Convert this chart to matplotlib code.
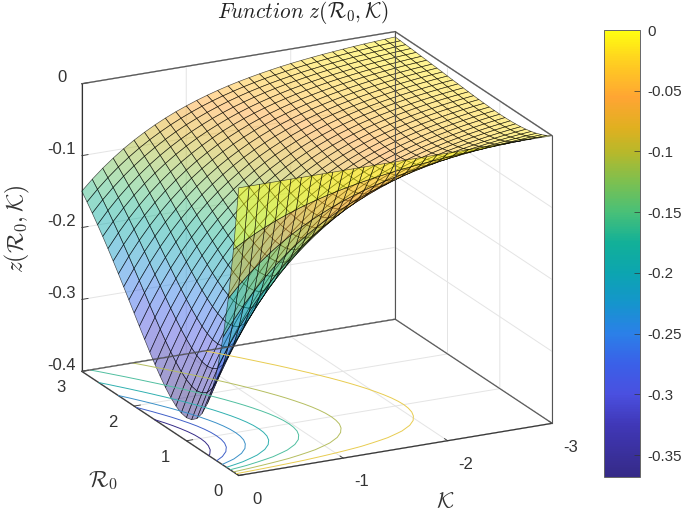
import numpy as np
import matplotlib
matplotlib.use("Agg")
import matplotlib.pyplot as plt
from matplotlib.colors import LinearSegmentedColormap, Normalize
from matplotlib.cm import ScalarMappable
from matplotlib.transforms import ScaledTranslation

plt.rcParams['font.family'] = ['Liberation Sans', 'DejaVu Sans']
plt.rcParams['mathtext.fontset'] = 'cm'

k_values = [-0.1 * i for i in range(31)]
r0_values = [0.1 * i for i in range(31)]
k_ticks = [-3, -2, -1, 0]
k_ticklabels = ['-3', '-2', '-1', '0']
r0_ticks = [0, 1, 2, 3]
z_ticks = [-0.4, -0.3, -0.2, -0.1, 0]
z_ticklabels = ['-0.4', '-0.3', '-0.2', '-0.1', '0']
cbar_ticks = [-0.35, -0.3, -0.25, -0.2, -0.15, -0.1, -0.05, 0]
cbar_ticklabels = ['-0.35', '-0.3', '-0.25', '-0.2', '-0.15', '-0.1', '-0.05', '0']
contour_levels = [-0.322, -0.276, -0.230, -0.184, -0.138, -0.092, -0.046]
contour_colors = ['#352A87', '#4060C8', '#3A90C8', '#30B0B0', '#50BFA0', '#B5BE60', '#E8CC50']
z_min = -0.368

# depth of the surface below zero, in units of 0.0001; one row per R0, one column per K
depth = [
[0]*31,
[905,819,741,670,607,549,497,449,407,368,333,301,273,247,223,202,183,165,150,135,122,111,100,91,82,74,67,61,55,50,45],
[1637,1481,1340,1213,1097,993,898,813,736,666,602,545,493,446,404,365,331,299,271,245,221,201,181,164,148,134,122,110,100,90,82],
[2222,2011,1819,1646,1489,1348,1219,1103,998,903,817,740,669,606,548,496,449,406,367,332,301,272,246,223,202,182,165,149,135,122,111],
[2681,2426,2195,1986,1797,1626,1471,1331,1205,1090,986,893,807,731,661,598,541,490,443,401,363,328,297,269,243,220,199,180,163,147,134],
[3033,2744,2483,2247,2033,1840,1665,1506,1363,1233,1116,1010,914,826,748,677,612,554,501,454,410,372,336,304,275,249,225,204,184,167,151],
[3293,2980,2696,2439,2207,1997,1807,1635,1480,1339,1211,1096,992,897,812,735,665,602,544,493,446,403,365,330,299,270,245,221,200,181,164],
[3476,3145,2846,2575,2330,2108,1908,1726,1562,1413,1279,1157,1047,947,857,776,702,635,575,520,470,426,385,349,315,285,258,234,211,191,173],
[3595,3253,2943,2663,2410,2180,1973,1785,1615,1462,1323,1197,1083,980,887,802,726,657,594,538,486,440,398,361,326,295,267,242,219,198,179],
[3659,3311,2996,2711,2453,2219,2008,1817,1644,1488,1346,1218,1102,997,902,816,739,668,605,547,495,448,405,367,332,300,272,246,222,201,182],
[3679,3329,3012,2725,2466,2231,2019,1827,1653,1496,1353,1225,1108,1003,907,821,743,672,608,550,498,451,408,369,334,302,273,247,224,202,183],
[3662,3313,2998,2713,2455,2221,2010,1819,1645,1489,1347,1219,1103,998,903,817,739,669,605,548,495,449,406,367,332,301,272,246,223,201,182],
[3614,3270,2959,2677,2422,2192,1983,1795,1624,1469,1330,1203,1089,985,891,806,730,660,597,541,489,443,400,362,328,297,269,243,220,199,180],
[3543,3206,2901,2625,2375,2149,1944,1759,1592,1441,1303,1179,1067,965,874,790,715,647,586,530,479,434,393,355,321,291,263,238,215,195,176],
[3452,3123,2826,2557,2314,2094,1894,1714,1551,1404,1270,1149,1040,941,851,770,697,631,571,516,467,423,382,346,313,283,256,232,210,190,172],
[3347,3028,2740,2479,2243,2030,1837,1662,1504,1361,1231,1114,1008,912,825,747,676,611,553,501,453,410,371,336,304,275,249,225,203,184,167],
[3230,2923,2644,2393,2165,1959,1773,1604,1451,1313,1188,1075,973,880,797,721,652,590,534,483,437,396,358,324,293,265,240,217,196,178,161],
[3106,2810,2543,2301,2082,1884,1705,1542,1396,1263,1143,1034,936,846,766,693,627,567,513,465,420,380,344,312,282,255,231,209,189,171,155],
[2975,2692,2436,2204,1994,1804,1633,1477,1337,1210,1094,990,896,811,734,664,601,544,492,445,403,364,330,298,270,244,221,200,181,164,148],
[2842,2571,2327,2105,1905,1724,1560,1411,1277,1156,1046,946,856,774,701,634,574,519,470,425,385,348,315,285,258,233,211,191,173,156,142],
[2707,2449,2216,2005,1815,1642,1486,1344,1216,1101,996,901,815,738,668,604,547,495,447,405,366,332,300,272,246,222,201,182,165,149,135],
[2572,2327,2106,1905,1724,1560,1412,1277,1156,1046,946,856,775,701,634,574,519,470,425,385,348,315,285,258,233,211,191,173,156,141,128],
[2438,2206,1996,1806,1634,1479,1338,1211,1095,991,897,812,734,664,601,544,492,445,403,365,330,299,270,245,221,200,181,164,148,134,121],
[2306,2086,1888,1708,1546,1399,1266,1145,1036,938,848,768,695,628,569,514,466,421,381,345,312,283,256,231,209,189,171,155,140,127,115],
[2177,1970,1782,1613,1459,1320,1195,1081,978,885,801,725,656,593,537,486,440,398,360,326,295,267,241,218,197,179,162,146,132,120,108],
[2052,1857,1680,1520,1375,1245,1126,1019,922,834,755,683,618,559,506,458,414,375,339,307,278,251,227,206,186,168,152,138,125,113,102],
[1931,1747,1581,1430,1294,1171,1060,959,868,785,710,643,582,526,476,431,390,353,319,289,261,237,214,194,175,159,143,130,117,106,96],
[1815,1642,1486,1345,1217,1101,996,901,815,738,668,604,547,495,448,405,366,332,300,272,246,222,201,182,165,149,135,122,110,100,90],
[1703,1541,1394,1262,1142,1033,935,846,765,692,627,567,513,464,420,380,344,311,282,255,230,209,189,171,154,140,127,114,104,94,85],
[1596,1444,1307,1182,1070,968,876,793,717,649,587,531,481,435,394,356,322,292,264,239,216,196,177,160,145,131,119,107,97,88,79],
[1494,1352,1223,1107,1001,906,820,742,671,607,550,497,450,407,368,333,302,273,247,223,202,183,166,150,136,123,111,100,91,82,74],
]

cmap_z = [-0.368, -0.325, -0.3, -0.275, -0.25, -0.225, -0.2, -0.175, -0.15, -0.125, -0.1, -0.08, -0.055, -0.025, 0]
cmap_colors = ['#352A87', '#4038B8', '#4A50E0', '#3A60E8', '#2B80E8', '#1595CC', '#0CA5B0', '#12B098',
               '#48C078', '#7CC050', '#B8B82A', '#E0B020', '#FFA533', '#FFD020', '#FFFF10']
norm = Normalize(z_min, 0)
parula = LinearSegmentedColormap.from_list('image_map', list(zip([float(norm(v)) for v in cmap_z], cmap_colors)))

K, R = np.meshgrid(k_values, r0_values)
Z = -np.array(depth) * 1e-4

fig = plt.figure(figsize=(6.83, 5.15), dpi=100)
W, H = 683, 515
ax = fig.add_axes([10 / W, -3 / H, 600 / W, 1], projection='3d', computed_zorder=False)
ax.set_proj_type('ortho')
ax.view_init(elev=19.4, azim=-116.6)
ax.set_box_aspect((1, 1, 0.87), zoom=1.097)
ax.patch.set_alpha(0)
ax.set_xlim3d(0, -3, view_margin=0)
ax.set_ylim3d(0, 3, view_margin=0)
ax.set_zlim3d(-0.4, 0, view_margin=0)

for axis in (ax.xaxis, ax.yaxis, ax.zaxis):
    axis.set_pane_color((1, 1, 1, 1))
    axis.pane.set_edgecolor('#888888')
    axis.line.set_color('#333333')
    axis._axinfo['grid'].update(color='#e4e4e4', linewidth=0.7)
    axis._axinfo['tick'].update(inward_factor=0.0, outward_factor=0.25, linewidth={True: 0.6, False: 0.4})
ax.set_xticks(k_ticks)
ax.set_xticklabels(k_ticklabels)
ax.set_yticks(r0_ticks)
ax.set_zticks(z_ticks)
ax.set_zticklabels(z_ticklabels)
ax.tick_params(labelsize=12, colors='#333333', pad=1)


def nudge(axis, dx_px, dy_px):
    # Axis3D resets tick transforms in get_major_ticks, so add the label offset after that reset
    shift = ScaledTranslation(dx_px / 100, dy_px / 100, fig.dpi_scale_trans)
    original = axis.get_major_ticks

    def shifted(numticks=None):
        ticks = original(numticks)
        for tick in ticks:
            tick.label1.set_transform(ax.transData + shift)
        return ticks

    axis.get_major_ticks = shifted


nudge(ax.xaxis, 11, 2)
nudge(ax.yaxis, -6.5, 7)
nudge(ax.zaxis, 2, 11)

ax.contour(K, R, Z, levels=contour_levels, zdir='z', offset=-0.4, colors=contour_colors, linewidths=0.7)

# box outline
for xs, ys, zs in [((0, -3), (3, 3), (0, 0)), ((-3, -3), (0, 3), (0, 0)), ((-3, -3), (3, 3), (-0.4, 0)),
                   ((-3, -3), (0, 0), (-0.4, 0)), ((0, -3), (3, 3), (-0.4, -0.4)), ((-3, -3), (0, 3), (-0.4, -0.4))]:
    ax.plot(xs, ys, zs, color='#555555', lw=0.8)

fc = parula(norm(Z))
fc[..., 3] = 0.47
ax.plot_surface(K, R, Z, facecolors=fc, edgecolor=(0, 0, 0, 0.7), linewidth=0.45,
                rstride=1, cstride=1, shade=False, antialiased=True)

fig.text(303 / W, 1 - 13 / H, r'$Function\ z(\mathcal{R}_0,\mathcal{K})$', fontsize=15.3, ha='center', va='center',
         color='#222222')
fig.text(17 / W, 1 - 229 / H, r'$z(\mathcal{R}_0,\mathcal{K})$', fontsize=17, rotation=90, ha='center', va='center',
         color='#333333')
fig.text(103 / W, 1 - 480 / H, r'$\mathcal{R}_0$', fontsize=16.5, ha='center', va='center', color='#333333')
fig.text(445 / W, 1 - 503 / H, r'$\mathcal{K}$', fontsize=16, ha='center', va='center', color='#333333')

cax = fig.add_axes([604 / W, 1 - 477 / H, 36 / W, 447 / H])
cb = fig.colorbar(ScalarMappable(norm=norm, cmap=parula), cax=cax, ticks=cbar_ticks)
cb.ax.set_yticklabels(cbar_ticklabels)
cb.ax.tick_params(direction='in', length=4, width=0.5, labelsize=10.9, colors='#333333', pad=5)
cb.outline.set_edgecolor('#666666')
cb.outline.set_linewidth(0.7)

fig.savefig('out.png', dpi=100)
